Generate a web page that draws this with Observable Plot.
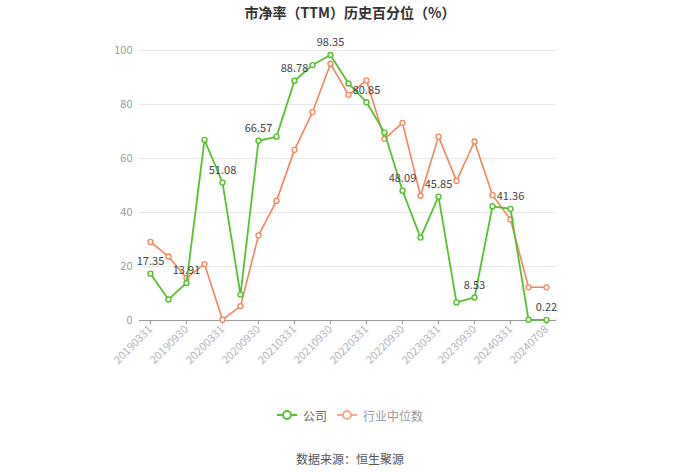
<!DOCTYPE html>
<html><head><meta charset="utf-8">
<script src="https://cdn.jsdelivr.net/npm/d3@7"></script>
<script src="https://cdn.jsdelivr.net/npm/@observablehq/plot@0.6"></script>
<style>
body{margin:0;background:#fff;font-family:"Noto Sans CJK SC","Noto Sans",sans-serif;width:700px;}
#title{height:24px;line-height:24px;text-align:center;font-weight:bold;font-size:14px;color:#333;}
#chart svg{display:block;}
#legend{margin-top:33px;height:16px;display:flex;justify-content:center;align-items:center;font-size:12px;}
#legend .item{display:flex;align-items:center;margin:0 5px;}
#legend svg{margin-right:6px;}
#source{margin-top:27px;text-align:center;font-size:12px;color:#555;}
</style></head>
<body>
<div id="title">市净率（TTM）历史百分位（%）</div>
<div id="chart"></div>
<div id="legend"></div>
<div id="source">数据来源：恒生聚源</div>
<script>
const dates = ["20190331","20190630","20190930","20191231","20200331","20200630","20200930","20201231",
  "20210331","20210630","20210930","20211231","20220331","20220630","20220930","20221231",
  "20230331","20230630","20230930","20231231","20240331","20240630","20240708"];
const company = [17.35,7.8,13.91,66.9,51.08,9.6,66.57,68.1,88.78,94.6,98.35,87.8,80.85,69.6,48.09,30.7,45.85,6.7,8.53,42.3,41.36,0.3,0.22];
const industry = [29.1,23.7,15.7,20.9,0.3,5.3,31.5,44.3,63.2,77.2,95.1,83.6,88.9,67.3,73.2,46.2,68.1,51.7,66.3,46.4,37.4,12.3,12.3];
const tickDates = ["20190331","20190930","20200331","20200930","20210331","20210930","20220331","20220930","20230331","20230930","20240331","20240708"];
const yTicks = [0,20,40,60,80,100];
const seriesNames = ["公司","行业中位数"];
const colors = ["#58c12e","#f5845b"];

const compData = dates.map((d,i)=>({date:d, value:company[i], label: i%2===0 ? company[i].toFixed(2) : null}));
const indData = dates.map((d,i)=>({date:d, value:industry[i]}));

const chart = Plot.plot({
  width:700, height:350,
  marginLeft:139, marginRight:144, marginTop:26, marginBottom:54,
  style:{fontFamily:'"Noto Sans CJK SC","Noto Sans",sans-serif', background:"#fff"},
  x:{type:"point", domain:dates, padding:0.5, label:null},
  y:{domain:[0,100], label:null},
  marks:[
    Plot.ruleY(yTicks.filter(v=>v>0), {stroke:"#e8e8e8", strokeWidth:1}),
    Plot.axisY({ticks:yTicks, tickSize:0, tickPadding:7, fill:"#999", fontSize:11, label:null}),
    Plot.axisX({ticks:tickDates, tickRotate:-45, tickSize:4, stroke:"#999", fill:"#b5b5b5", fontSize:11, tickPadding:3, label:null}),
    Plot.ruleY([0], {stroke:"#999", strokeWidth:1}),
    Plot.line(indData, {x:"date", y:"value", stroke:colors[1], strokeWidth:1.6}),
    Plot.dot(indData, {x:"date", y:"value", r:2.5, stroke:colors[1], fill:"#fff", strokeWidth:1.3}),
    Plot.line(compData, {x:"date", y:"value", stroke:colors[0], strokeWidth:1.8}),
    Plot.dot(compData, {x:"date", y:"value", r:2.5, stroke:colors[0], fill:"#fff", strokeWidth:1.4}),
    Plot.text(compData.filter(d=>d.label!==null), {x:"date", y:"value", text:"label", dy:-12, fill:"#444", fontSize:11})
  ]
});
document.getElementById("chart").appendChild(chart);

const legend = document.getElementById("legend");
const legendColors = ["#58c12e","#f6a98a"];
const textColors = ["#666","#999"];
seriesNames.forEach((n,i)=>{
  const item = document.createElement("div");
  item.className="item";
  item.innerHTML = `<svg width="20" height="12"><line x1="0" y1="6" x2="20" y2="6" stroke="${legendColors[i]}" stroke-width="2"/><circle cx="10" cy="6" r="4" fill="#fff" stroke="${legendColors[i]}" stroke-width="2"/></svg><span style="color:${textColors[i]}">${n}</span>`;
  legend.appendChild(item);
});
</script>
</body></html>
